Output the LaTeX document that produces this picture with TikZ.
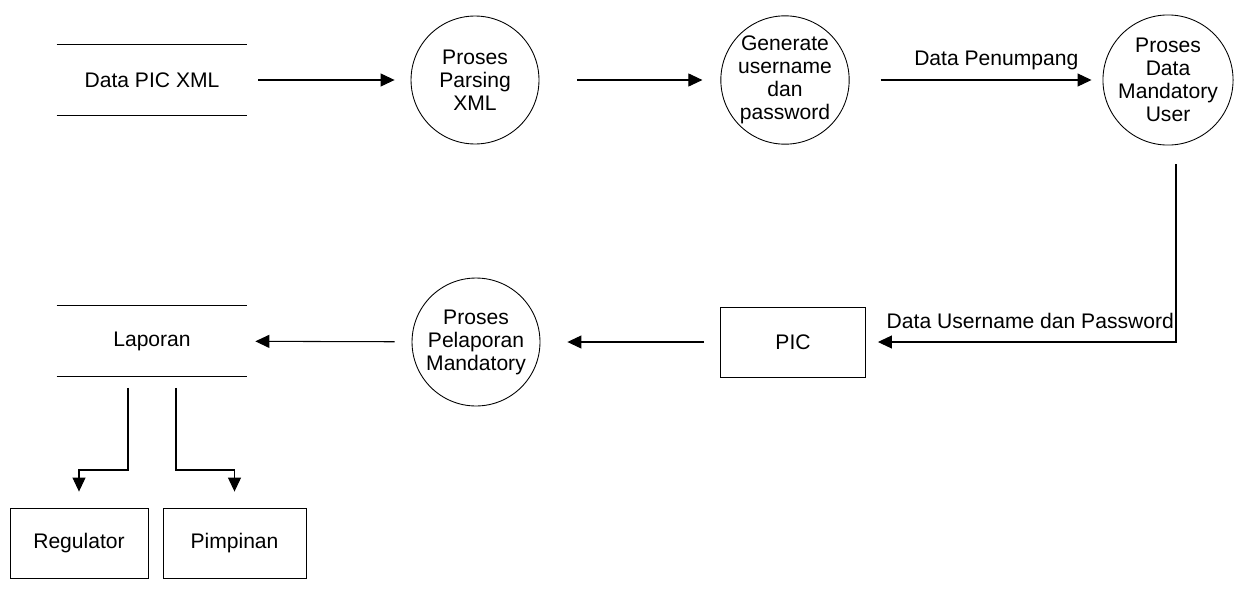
\documentclass[tikz,border=0pt]{standalone}
\usepackage{fontspec}
\setmainfont{Liberation Sans}
\usepackage{tikz}
\usetikzlibrary{arrows.meta}
\usepackage{xcolor}
\definecolor{ink}{HTML}{000000}
\definecolor{paper}{HTML}{FFFFFF}

\begin{document}
\begin{tikzpicture}[x=0.02cm,y=-0.02cm,
		every node/.style={font=\fontsize{12}{13.1}\selectfont,color=ink},
		proc/.style={draw=ink,circle,line width=0.5pt,minimum size=2.56cm,inner sep=0pt,align=center},
		ent/.style={draw=ink,rectangle,line width=0.5pt,minimum height=1.4cm},
		store/.style={minimum width=3.8cm,minimum height=1.42cm,inner sep=0pt},
		flow/.style={draw=ink,line width=0.6pt,-{Triangle[length=0.28cm,width=0.26cm]}}]
		%
		\useasboundingbox [fill=paper] (0,0) rectangle (1256,605);
		%
		\node [store] (xml) at (152,80) {Data PIC XML};
		\draw [ink,line width=0.6pt] (xml.north west) -- (xml.north east) (xml.south west) -- (xml.south east);
		\node [proc] (parse) at (475,80) {Proses\\Parsing\\XML};
		\node [proc] (gen) at (785,80) {Generate\\username\\dan\\password};
		\node [proc] (mand) at (1168,80) {Proses\\Data\\Mandatory\\User};
		%
		\node [ent,minimum width=2.9cm] (pic) at (793,342) {PIC};
		\node [proc] (lapor) at (476,342) {Proses\\Pelaporan\\Mandatory};
		\node [store] (lap) at (152,341) {Laporan};
		\draw [ink,line width=0.6pt] (lap.north west) -- (lap.north east) (lap.south west) -- (lap.south east);
		%
		\node [ent,minimum width=2.76cm] (reg) at (79,543) {Regulator};
		\node [ent,minimum width=2.86cm] (pim) at (234.5,543) {Pimpinan};
		%
		\coordinate (bend) at (1176,342);
		\coordinate (regbend) at (128,470);
		\coordinate (pimbend) at (176,470);
		%
		\draw [flow,shorten <=0.22cm,shorten >=0.32cm] (xml) -- (parse);
		\draw [flow,shorten <=0.76cm,shorten >=0.36cm] (parse) -- (gen);
		\draw [flow,shorten <=0.62cm,shorten >=0.22cm] (gen) -- node [above=2pt,pos=0.58] {Data Penumpang} (mand);
		\draw [flow,shorten <=0.38cm,shorten >=0.24cm] (bend |- mand.south) -- (bend) -- node [above=4pt,pos=0.47] {Data Username dan Password} (pic.east);
		\draw [flow,shorten <=0.32cm,shorten >=0.54cm] (pic) -- (lapor);
		\draw [flow,shorten <=0.34cm,shorten >=0.16cm] (lapor) -- (lap);
		%
		\draw [flow,shorten <=0.22cm,shorten >=0.32cm] (regbend |- lap.south) -- (regbend) -| (reg.north); %left
		\draw [flow,shorten <=0.22cm,shorten >=0.32cm] (pimbend |- lap.south) -- (pimbend) -| (pim.north); %right
	\end{tikzpicture}
\end{document}
